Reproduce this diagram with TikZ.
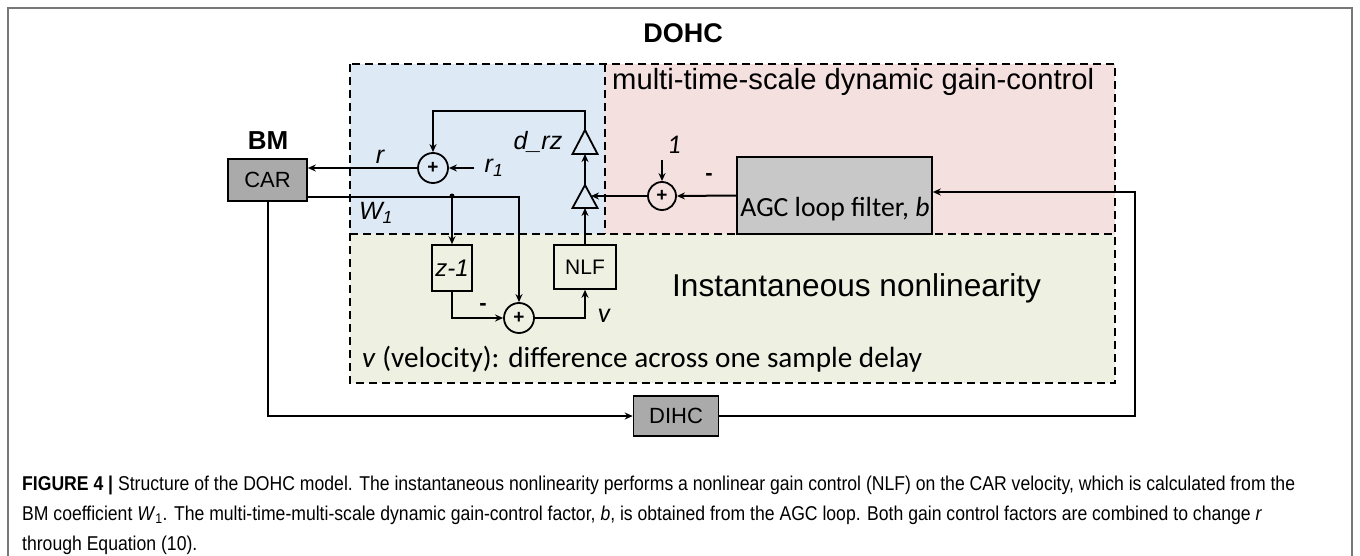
\documentclass[tikz,border=0pt]{standalone}
\usepackage{fontspec}
\setmainfont{Liberation Sans}
\newfontfamily\calib{Carlito}
\newfontfamily\capfont[FakeStretch=0.88]{Liberation Sans}
\usetikzlibrary{arrows.meta,calc}

\definecolor{zoneblue}{RGB}{221,233,245}
\definecolor{zonepink}{RGB}{245,224,224}
\definecolor{zonegreen}{RGB}{238,240,226}
\definecolor{boxgray}{RGB}{170,170,170}
\definecolor{agcgray}{RGB}{200,200,200}
\definecolor{framegray}{RGB}{120,120,120}

\newcommand{\fs}[1]{\fontsize{#1}{#1}\selectfont}

\tikzset{
  zoneline/.style={draw=black, line width=2pt, dash pattern=on 8pt off 5pt},
  graybox/.style={draw=black, line width=1.6pt, fill=boxgray, inner sep=0pt},
  plainbox/.style={draw=black, line width=1.6pt, inner sep=0pt},
  sumnode/.style={circle, draw=black, line width=1.8pt, minimum size=30pt, inner sep=0pt, font=\bfseries\fs{19}},
  sig/.style={line width=2pt, -{Stealth[length=8pt,width=7pt]}},
  lbl/.style={inner sep=0pt},
  amp/.style={draw=black, line width=1.8pt}
}

\begin{document}
\begin{tikzpicture}[x=1pt,y=-1pt]
\useasboundingbox (0,0) rectangle (1360,556);

% outer frame
\draw[framegray, line width=2pt] (8,570) -- (8,8) -- (1352,8) -- (1352,570);

% shaded zones
\fill[zoneblue]  (350,64) rectangle (605,234);
\fill[zonepink]  (605,64) rectangle (1115,234);
\fill[zonegreen] (350,234) rectangle (1115,383);
\draw[zoneline] (350,64) rectangle (1115,383);
\draw[zoneline] (350,234) -- (1115,234);
\draw[zoneline] (605,64) -- (605,234);

% titles
\node[lbl, font=\bfseries\fs{27}] (dohc) at (683,33) {DOHC};
\node[lbl, font=\bfseries\fs{26}] (bm) at (268,141) {BM};
\node[lbl, font=\fs{29.2}, anchor=base west] (mtitle) at (612,90) {multi-time-scale dynamic gain-control};
\node[lbl, font=\fs{31.6}, anchor=base west] (ititle) at (672,296) {Instantaneous nonlinearity};
\node[lbl, font=\calib\fs{29.2}, anchor=base west] (vtitle) at (362,367) {\textit{v} (velocity): difference across one sample delay};

% blocks
\node[graybox, minimum width=79pt, minimum height=42pt, font=\fs{22}] (car) at (267.5,180) {CAR};
\node[graybox, fill=agcgray, minimum width=195pt, minimum height=77pt] (agc) at (834.5,195.5) {};
\node[lbl, font=\calib\fs{27.7}, anchor=base] (agctxt) at (835,217) {AGC loop filter, \textit{b}};
\node[graybox, minimum width=85pt, minimum height=40pt, font=\fs{22}] (dihc) at (676,416) {DIHC};
\node[plainbox, minimum width=40pt, minimum height=46pt, font=\itshape\fs{24}] (zd) at (452,268) {z-1};
\node[plainbox, minimum width=62pt, minimum height=44pt, font=\fs{21}] (nlf) at (585,267) {NLF};

% summing junctions
\node[sumnode] (sumr) at (433,168) {+};
\node[sumnode, minimum size=28pt] (sumb) at (662,196) {+};
\node[sumnode] (sumv) at (519,318) {+};

% gain stages (triangles)
\coordinate (t1apex) at (585,130);
\coordinate (t1base) at (585,154);
\coordinate (t2apex) at (585,185);
\coordinate (t2base) at (585,208);
\coordinate (t2in) at (591,196);
\draw[amp] (t1apex) -- ($(t1base)+(12.5,0)$) -- ($(t1base)+(-12.5,0)$) -- cycle;
\draw[amp] (t2apex) -- ($(t2base)+(12.5,0)$) -- ($(t2base)+(-12.5,0)$) -- cycle;

% signal labels
\node[lbl, font=\itshape\fs{25}] (rl) at (380,157) {r};
\node[lbl, font=\itshape\fs{25}] (r1l) at (494,168) {r\textsubscript{1}};
\node[lbl, font=\itshape\fs{25}] (drz) at (538,142) {d\_rz};
\node[lbl, font=\itshape\fs{25}] (w1l) at (376,213) {W\textsubscript{1}};
\node[lbl, font=\calib\itshape\fs{27}] (onel) at (674,145) {1};
\node[lbl, font=\bfseries\fs{22}] (mb) at (709,177) {-};
\node[lbl, font=\bfseries\fs{22}] (mv) at (483,307) {-};
\node[lbl, font=\calib\itshape\fs{28}] (vl) at (604,316) {v};

% connectors
\coordinate (r1in) at (474,168);
\coordinate (onein) at (662,160);
\coordinate (fbr) at (1135,192);
\coordinate (wout) at ($(car.south east)+(0,-5)$);
\coordinate (jn) at (452,196);

\draw[sig] (sumr.west) -- (car.east |- sumr);
\draw[sig] (r1in) -- (sumr.east);
\draw[sig] (t1apex) -- ++(0,-19) -| (sumr.north);
\draw[sig] (t2apex) -- (t1base);
\draw[sig] (nlf.north) -- (t2base);
\draw[sig] (sumb.west) -- (t2in);
\draw[sig] (onein) -- (sumb.north);
\draw[sig] (agc.west) -- (sumb.east);
\draw[sig] (dihc.east) -| (fbr) -- (agc.east |- fbr);
\draw[sig] (car.south) |- (dihc.west);
\draw[sig] (wout) -| (sumv.north);
\fill (jn) circle (2.5pt);
\draw[sig] (jn) -- (zd.north);
\draw[sig] (zd.south) |- (sumv.west);
\draw[sig] (sumv.east) -| (nlf.south);

% caption
\node[lbl, font=\capfont\fs{20}, anchor=base west] (cap1) at (22,490)
  {\textbf{FIGURE 4 |} Structure of the DOHC model. The instantaneous nonlinearity performs a nonlinear gain control (NLF) on the CAR velocity, which is calculated from the};
\node[lbl, font=\capfont\fs{20}, anchor=base west] (cap2) at (22,520)
  {BM coefficient \textit{W}\textsubscript{1}. The multi-time-multi-scale dynamic gain-control factor, \textit{b}, is obtained from the AGC loop. Both gain control factors are combined to change \textit{r}};
\node[lbl, font=\capfont\fs{20}, anchor=base west] (cap3) at (22,550)
  {through Equation (10).};
\end{tikzpicture}
\end{document}
